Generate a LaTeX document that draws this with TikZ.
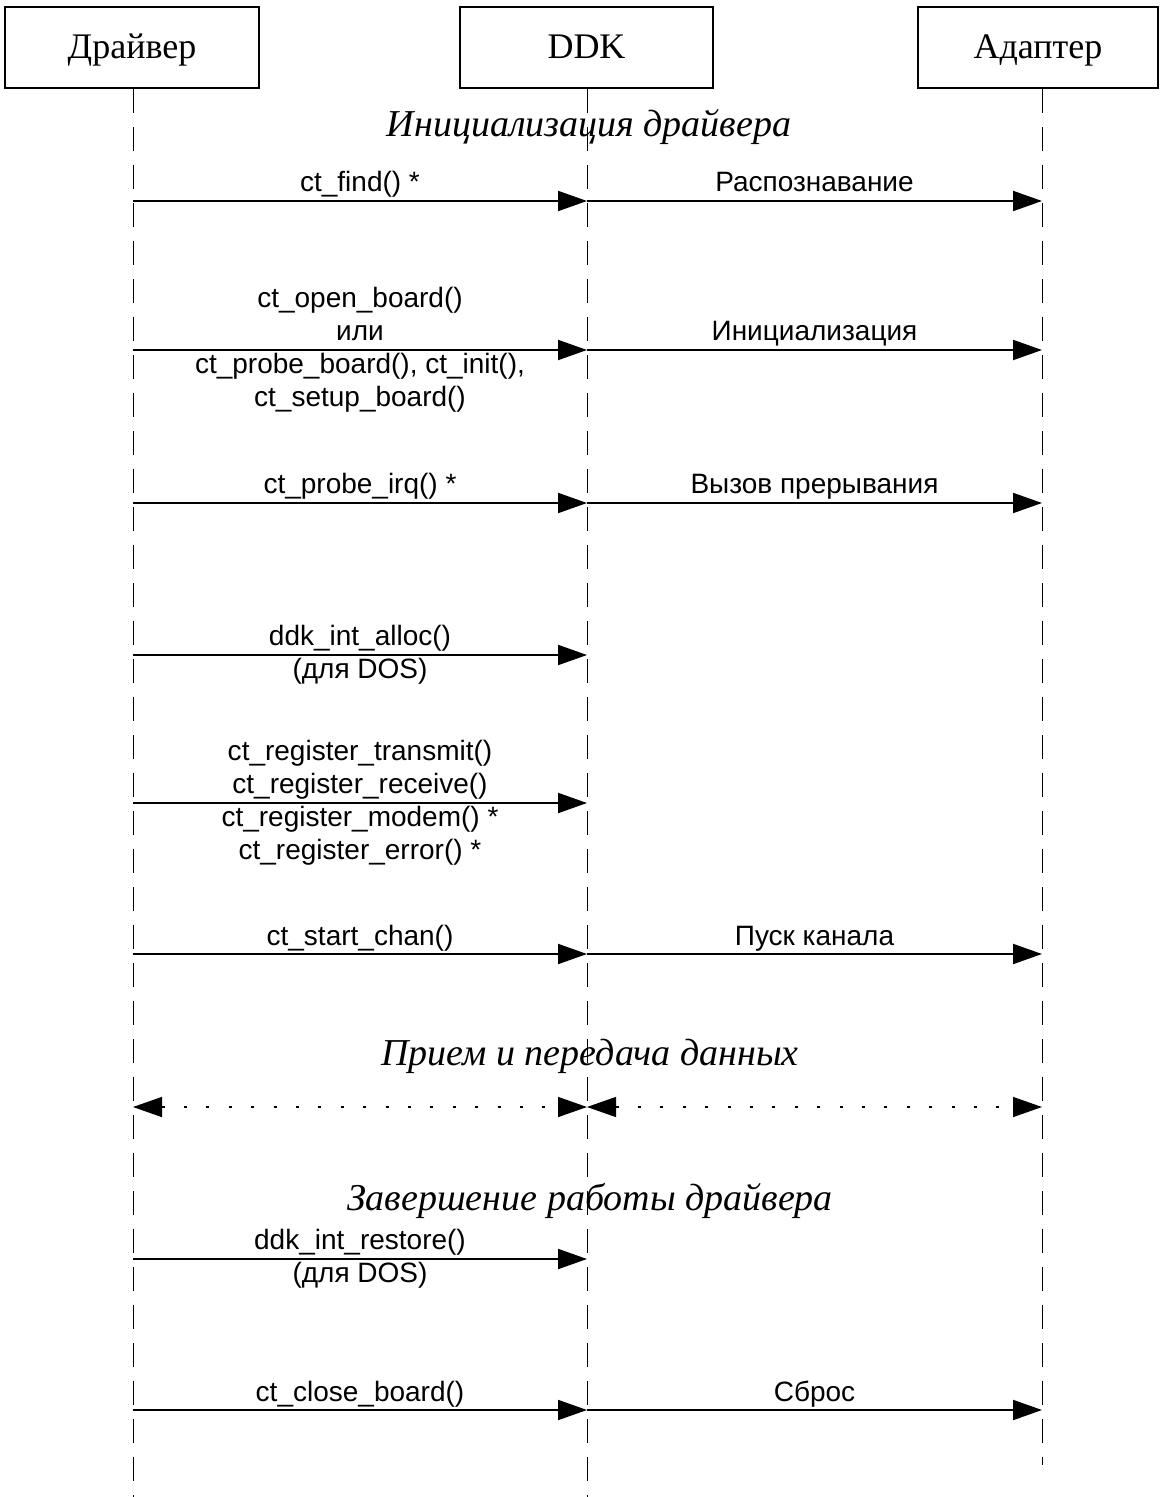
\documentclass[tikz,border=0pt]{standalone}
\usepackage{fontspec}
\setmainfont{Liberation Serif}
\newfontfamily\lblfont{Liberation Sans}
\usetikzlibrary{arrows.meta,positioning}

\tikzset{
  actor/.style={draw, line width=0.9pt, inner sep=0pt, minimum height=40.5pt,
    text height=1.1em, text depth=0em, font=\fontsize{18}{22}\selectfont},
  life/.style={line width=0.5pt, dash pattern=on 12pt off 7pt},
  msg/.style={line width=1pt, -{Triangle[length=14.5pt,width=10pt]}},
  data/.style={line width=0.7pt, dash pattern=on 1.5pt off 9.7pt,
    {Triangle[length=14.5pt,width=10pt]}-{Triangle[length=14.5pt,width=10pt]}},
  lbl/.style={font=\lblfont\fontsize{14}{16.5}\selectfont, inner sep=0pt, align=center},
  phase/.style={font=\fontsize{19}{22}\selectfont\itshape},
}

\begin{document}
\begin{tikzpicture}[x=0.5pt,y=-0.5pt]
    \useasboundingbox (0,0) rectangle (1161,1497);
    \node[actor, minimum width=127pt] (drv) at (132,47.5) {Драйвер};
    \node[actor, minimum width=126.5pt] (ddk) at (586.5,47.5) {DDK};
    \node[actor, minimum width=120pt] (ada) at (1038,47.5) {Адаптер};
    \foreach \n/\y in {find/201,open/350,irq/503,alloc/655,reg/803,start/954,data/1107,restore/1259,close/1410} {
        \coordinate (drv-\n) at (133,\y);
        \coordinate (ddk-\n) at (587,\y);
        \coordinate (ada-\n) at (1042,\y);
    }
    \coordinate (drv-end) at (133,1497);
    \coordinate (ddk-end) at (587,1497);
    \coordinate (ada-end) at (1042,1465);
    \draw[life] (drv.south -| drv-end) -- (drv-end);
    \draw[life] (ddk.south -| ddk-end) -- (ddk-end);
    \draw[life] (ada.south -| ada-end) -- (ada-end);

    \node[phase] (init) at (589,127) {Инициализация драйвера};
    \node[phase] (xfer) at (590,1056) {Прием и передача данных};
    \node[phase] (stop) at (590,1201) {Завершение работы драйвера};

    \draw[msg] (drv-find) -- node[lbl, anchor=base, yshift=4.5pt] {ct\_find() *} (ddk-find);
    \draw[msg] (ddk-find) -- node[lbl, anchor=base, yshift=4.5pt] {Распознавание} (ada-find);
    \draw[msg] (drv-open) -- node[lbl] {ct\_open\_board()\\или\\ct\_probe\_board(), ct\_init(),\\ct\_setup\_board()} (ddk-open);
    \draw[msg] (ddk-open) -- node[lbl, anchor=base, yshift=4.5pt] {Инициализация} (ada-open);
    \draw[msg] (drv-irq) -- node[lbl, anchor=base, yshift=4.5pt] {ct\_probe\_irq() *} (ddk-irq);
    \draw[msg] (ddk-irq) -- node[lbl, anchor=base, yshift=4.5pt] {Вызов прерывания} (ada-irq);
    \draw[msg] (drv-alloc) -- node[lbl] {ddk\_int\_alloc()\\(для DOS)} (ddk-alloc);
    \draw[msg] (drv-reg) -- node[lbl] {ct\_register\_transmit()\\ct\_register\_receive()\\ct\_register\_modem() *\\ct\_register\_error() *} (ddk-reg);
    \draw[msg] (drv-start) -- node[lbl, anchor=base, yshift=4.5pt] {ct\_start\_chan()} (ddk-start);
    \draw[msg] (ddk-start) -- node[lbl, anchor=base, yshift=4.5pt] {Пуск канала} (ada-start);
    \draw[data] (drv-data) -- (ddk-data);
    \draw[data] (ddk-data) -- (ada-data);
    \draw[msg] (drv-restore) -- node[lbl] {ddk\_int\_restore()\\(для DOS)} (ddk-restore);
    \draw[msg] (drv-close) -- node[lbl, anchor=base, yshift=4.5pt] {ct\_close\_board()} (ddk-close);
    \draw[msg] (ddk-close) -- node[lbl, anchor=base, yshift=4.5pt] {Сброс} (ada-close);
\end{tikzpicture}
\end{document}
